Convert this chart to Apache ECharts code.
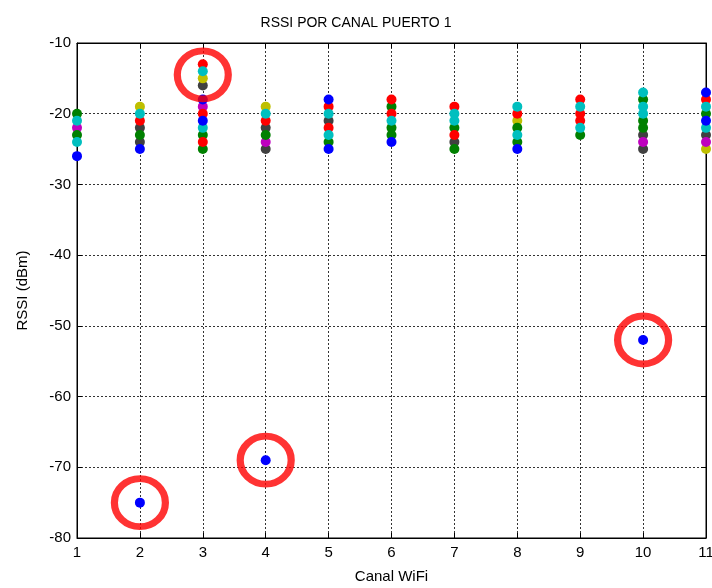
<!DOCTYPE html>
<html>
<head>
<meta charset="utf-8">
<script src="https://cdn.jsdelivr.net/npm/echarts@6/dist/echarts.min.js"></script>
<style>
  html, body { margin: 0; padding: 0; background: #fff; }
  #chart { width: 712px; height: 588px; }
</style>
</head>
<body>
<div id="chart"></div>
<script>
// RSSI readings per WiFi channel, grouped by marker colour: [channel, dBm]
const bluePts    = [[1, -26], [2, -25], [2, -75], [3, -18], [3, -21], [4, -69], [5, -18], [5, -25], [6, -24], [8, -25], [10, -52], [11, -17], [11, -21]];
const greenPts   = [[1, -20], [1, -23], [2, -23], [3, -23], [3, -25], [4, -23], [5, -24], [6, -19], [6, -22], [6, -23], [7, -22], [7, -25], [8, -22], [8, -24], [9, -23], [10, -18], [10, -21], [10, -22], [11, -20]];
const redPts     = [[2, -21], [3, -13], [3, -20], [3, -24], [4, -21], [5, -19], [5, -22], [6, -18], [6, -20], [7, -19], [7, -23], [8, -20], [9, -18], [9, -20], [9, -21], [11, -18]];
const cyanPts    = [[1, -21], [1, -24], [2, -20], [3, -14], [3, -22], [4, -20], [5, -20], [5, -23], [6, -21], [7, -20], [7, -21], [8, -19], [8, -23], [9, -19], [9, -22], [10, -17], [10, -19], [10, -20], [11, -19], [11, -22]];
const magentaPts = [[1, -22], [3, -19], [4, -24], [10, -24], [11, -24]];
const yellowPts  = [[2, -19], [3, -15], [4, -19], [8, -21], [11, -25]];
const darkPts    = [[2, -22], [2, -24], [3, -16], [4, -22], [4, -25], [5, -21], [7, -24], [10, -23], [10, -25], [11, -23]];

// Points singled out with a ring
const ringPts = [[3, -14.5], [2, -75], [4, -69], [10, -52]];

const channelTicks = [1, 2, 3, 4, 5, 6, 7, 8, 9, 10, 11];

const FONT = 'Liberation Sans, Arial, sans-serif';

function dotSeries(name, pts, color) {
  return {
    name: name,
    type: 'scatter',
    data: pts,
    symbol: 'circle',
    symbolSize: 10,
    clip: false,
    itemStyle: { color: color, opacity: 1 },
    emphasis: { disabled: true }
  };
}

const chart = echarts.init(document.getElementById('chart'), null, { renderer: 'canvas' });

const gridLine = { show: true, lineStyle: { color: '#333', type: [2, 2], width: 1 } };

chart.setOption({
  animation: false,
  backgroundColor: '#fff',
  title: {
    text: 'RSSI POR CANAL PUERTO 1',
    left: 'center',
    top: 11,
    textStyle: { fontFamily: FONT, fontSize: 14, fontWeight: 'normal', color: '#000' }
  },
  grid: {
    left: 77, right: 6, top: 43, bottom: 50,
    containLabel: false, outerBoundsMode: 'none',
    show: true, borderColor: '#000', borderWidth: 1, backgroundColor: 'transparent'
  },
  xAxis: [{
    type: 'value',
    min: 1, max: 11, interval: 1,
    name: 'Canal WiFi',
    nameLocation: 'middle',
    nameGap: 31,
    nameTextStyle: { fontFamily: FONT, fontSize: 15, color: '#000' },
    axisLine: { show: true, onZero: false, lineStyle: { color: '#000' } },
    axisTick: { show: true, inside: true, length: 5, lineStyle: { color: '#000' } },
    axisLabel: {
      fontFamily: FONT, fontSize: 15, color: '#000', margin: 7,
      formatter: v => channelTicks.includes(v) ? String(v) : ''
    },
    splitLine: gridLine
  }, {
    type: 'value',
    position: 'top',
    min: 1, max: 11, interval: 1,
    axisLine: { show: true, onZero: false, lineStyle: { color: '#000' } },
    axisTick: { show: true, inside: true, length: 5, lineStyle: { color: '#000' } },
    axisLabel: { show: false },
    splitLine: { show: false }
  }],
  yAxis: [{
    type: 'value',
    min: -80, max: -10, interval: 10,
    name: 'RSSI (dBm)',
    nameLocation: 'middle',
    nameGap: 47,
    nameRotate: 90,
    nameTextStyle: { fontFamily: FONT, fontSize: 15, color: '#000' },
    axisLine: { show: true, onZero: false, lineStyle: { color: '#000' } },
    axisTick: { show: true, inside: true, length: 5, lineStyle: { color: '#000' } },
    axisLabel: { fontFamily: FONT, fontSize: 15, color: '#000', margin: 6 },
    splitLine: gridLine
  }, {
    type: 'value',
    position: 'right',
    min: -80, max: -10, interval: 10,
    axisLine: { show: true, onZero: false, lineStyle: { color: '#000' } },
    axisTick: { show: true, inside: true, length: 5, lineStyle: { color: '#000' } },
    axisLabel: { show: false },
    splitLine: { show: false }
  }],
  series: [
    dotSeries('k', darkPts, '#404040'),
    dotSeries('y', yellowPts, '#bfbf00'),
    dotSeries('m', magentaPts, '#bf00bf'),
    dotSeries('g', greenPts, '#008000'),
    dotSeries('r', redPts, '#ff0000'),
    dotSeries('c', cyanPts, '#00bfbf'),
    dotSeries('b', bluePts, '#0000ff'),
    {
      name: 'ring',
      type: 'scatter',
      data: ringPts,
      symbol: 'circle',
      symbolSize: [51, 48],
      clip: false,
      itemStyle: { color: 'rgba(0,0,0,0)', borderColor: '#ff0000', borderWidth: 7 },
      emphasis: { disabled: true },
      z: 5
    }
  ]
});
</script>
</body>
</html>
